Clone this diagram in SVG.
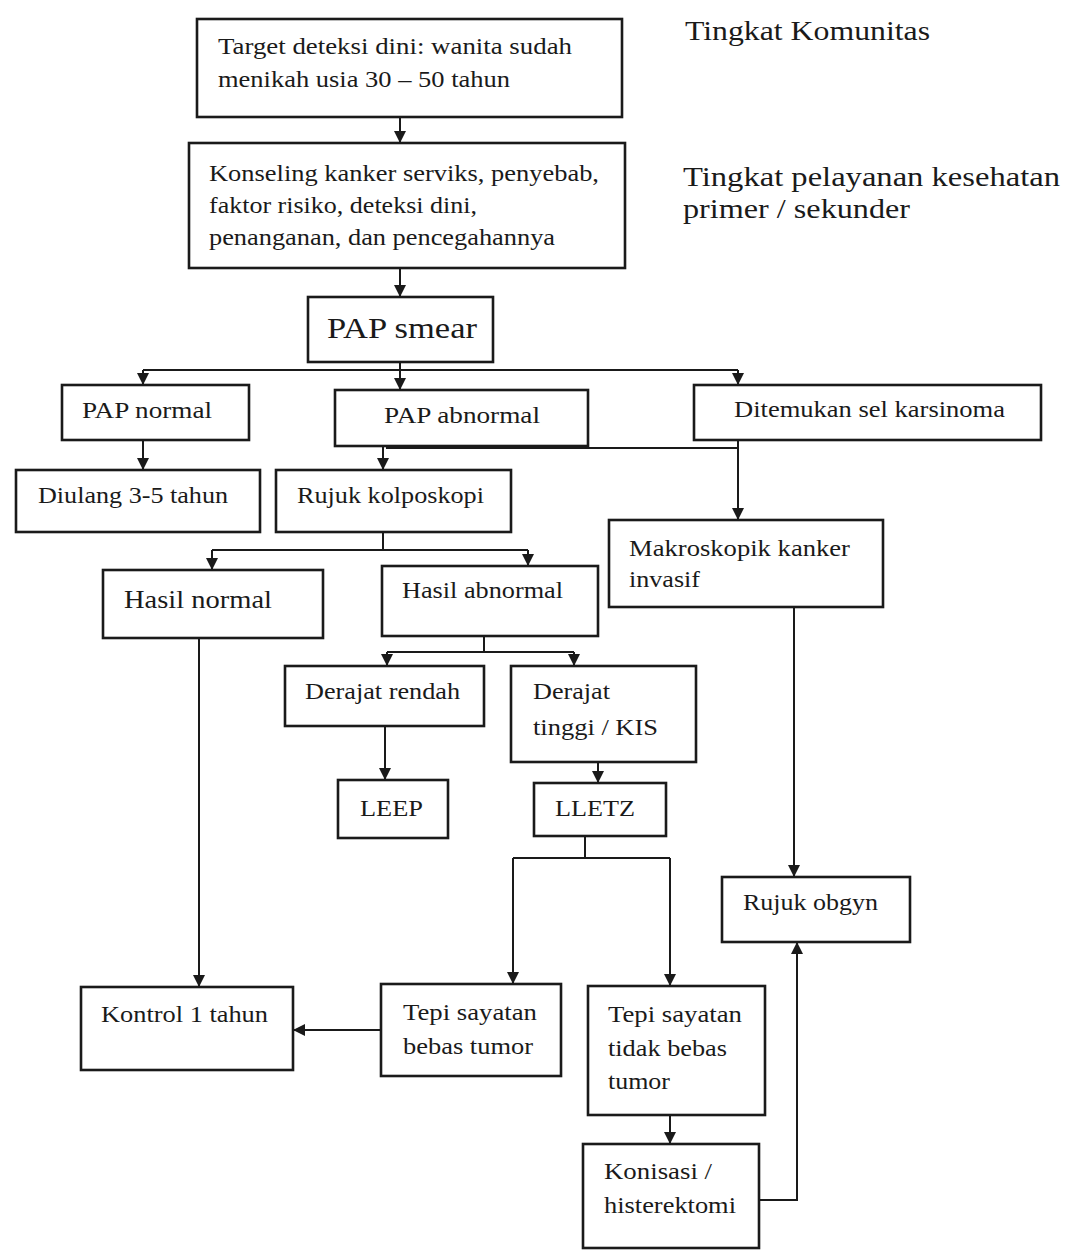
<svg xmlns="http://www.w3.org/2000/svg" width="1072" height="1251" viewBox="0 0 1072 1251">
<style>
.box{fill:#fff;stroke:#1a1a1a;stroke-width:2.6}
.t{font-family:"Liberation Serif","Times New Roman",serif;font-size:23px;fill:#1a1a1a}
.big{font-size:25px}
.lbl{font-family:"Liberation Serif","Times New Roman",serif;font-size:27px;fill:#1a1a1a}
.c{fill:none;stroke:#1a1a1a;stroke-width:2}
</style>
<defs>
<marker id="ah" markerUnits="userSpaceOnUse" markerWidth="12" markerHeight="12" refX="10" refY="5" orient="auto" viewBox="0 0 10 10">
<path d="M0,0 L10,5 L0,10 z" fill="#1a1a1a"/>
</marker>
</defs>
<rect width="1072" height="1251" fill="#fff"/>
<text class="lbl" x="685" y="40" textLength="245" lengthAdjust="spacingAndGlyphs">Tingkat Komunitas</text>
<text class="lbl" x="683" y="186" textLength="377" lengthAdjust="spacingAndGlyphs">Tingkat pelayanan kesehatan</text>
<text class="lbl" x="683" y="218" textLength="227" lengthAdjust="spacingAndGlyphs">primer / sekunder</text>
<g id="nodes-under">
<g id="n-papabnormal"><rect class="box" x="335" y="390" width="253" height="56"/>
<text class="t" x="384" y="423" textLength="156" lengthAdjust="spacingAndGlyphs">PAP abnormal</text></g>
</g>
<g id="connectors">
<path class="c" d="M400,117 V143" marker-end="url(#ah)"/>
<path class="c" d="M400,268 V297" marker-end="url(#ah)"/>
<path class="c" d="M400,362 V390" marker-end="url(#ah)"/>
<path class="c" d="M143,370 H738"/>
<path class="c" d="M143,370 V385" marker-end="url(#ah)"/>
<path class="c" d="M738,370 V385" marker-end="url(#ah)"/>
<path class="c" d="M143,440 V470" marker-end="url(#ah)"/>
<path class="c" d="M383,446 V470" marker-end="url(#ah)"/>
<path class="c" d="M386,448 H738"/>
<path class="c" d="M738,440 V520" marker-end="url(#ah)"/>
<path class="c" d="M383,532 V550 M212,550 H528"/>
<path class="c" d="M212,550 V570" marker-end="url(#ah)"/>
<path class="c" d="M528,550 V566" marker-end="url(#ah)"/>
<path class="c" d="M484,636 V652 M387,652 H574"/>
<path class="c" d="M387,652 V666" marker-end="url(#ah)"/>
<path class="c" d="M574,652 V666" marker-end="url(#ah)"/>
<path class="c" d="M385,726 V780" marker-end="url(#ah)"/>
<path class="c" d="M598,762 V783" marker-end="url(#ah)"/>
<path class="c" d="M585,836 V858 M513,858 H670"/>
<path class="c" d="M513,858 V984" marker-end="url(#ah)"/>
<path class="c" d="M670,858 V986" marker-end="url(#ah)"/>
<path class="c" d="M794,607 V877" marker-end="url(#ah)"/>
<path class="c" d="M199,638 V987" marker-end="url(#ah)"/>
<path class="c" d="M381,1030 H293" marker-end="url(#ah)"/>
<path class="c" d="M670,1115 V1144" marker-end="url(#ah)"/>
<path class="c" d="M759,1200 H797 V942" marker-end="url(#ah)"/>
</g>
<g id="n-target"><rect class="box" x="197" y="19" width="425" height="98"/>
<text class="t" x="218" y="54" textLength="354" lengthAdjust="spacingAndGlyphs">Target deteksi dini: wanita sudah</text>
<text class="t" x="218" y="87" textLength="292" lengthAdjust="spacingAndGlyphs">menikah usia 30 – 50 tahun</text></g>
<g id="n-konseling"><rect class="box" x="189" y="143" width="436" height="125"/>
<text class="t" x="209" y="181" textLength="390" lengthAdjust="spacingAndGlyphs">Konseling kanker serviks, penyebab,</text>
<text class="t" x="209" y="213" textLength="268" lengthAdjust="spacingAndGlyphs">faktor risiko, deteksi dini,</text>
<text class="t" x="209" y="245" textLength="346" lengthAdjust="spacingAndGlyphs">penanganan, dan pencegahannya</text></g>
<g id="n-pap"><rect class="box" x="308" y="297" width="185" height="65"/>
<text class="t" x="327" y="338" style="font-size:29px" textLength="150" lengthAdjust="spacingAndGlyphs">PAP smear</text></g>
<g id="n-papnormal"><rect class="box" x="62" y="385" width="187" height="55"/>
<text class="t" x="82" y="418" textLength="130" lengthAdjust="spacingAndGlyphs">PAP normal</text></g>
<g id="n-karsinoma"><rect class="box" x="694" y="385" width="347" height="55"/>
<text class="t" x="734" y="417" textLength="271" lengthAdjust="spacingAndGlyphs">Ditemukan sel karsinoma</text></g>
<g id="n-diulang"><rect class="box" x="16" y="470" width="244" height="62"/>
<text class="t" x="38" y="503" textLength="190" lengthAdjust="spacingAndGlyphs">Diulang 3-5 tahun</text></g>
<g id="n-rujukkolp"><rect class="box" x="276" y="470" width="235" height="62"/>
<text class="t" x="297" y="503" textLength="187" lengthAdjust="spacingAndGlyphs">Rujuk kolposkopi</text></g>
<g id="n-makro"><rect class="box" x="609" y="520" width="274" height="87"/>
<text class="t" x="629" y="556" textLength="221" lengthAdjust="spacingAndGlyphs">Makroskopik kanker</text>
<text class="t" x="629" y="587" textLength="71" lengthAdjust="spacingAndGlyphs">invasif</text></g>
<g id="n-hasilnormal"><rect class="box" x="103" y="570" width="220" height="68"/>
<text class="t big" x="124" y="608" textLength="148" lengthAdjust="spacingAndGlyphs">Hasil normal</text></g>
<g id="n-hasilabnormal"><rect class="box" x="382" y="566" width="216" height="70"/>
<text class="t" x="402" y="598" textLength="161" lengthAdjust="spacingAndGlyphs">Hasil abnormal</text></g>
<g id="n-rendah"><rect class="box" x="285" y="666" width="199" height="60"/>
<text class="t" x="305" y="699" textLength="155" lengthAdjust="spacingAndGlyphs">Derajat rendah</text></g>
<g id="n-tinggi"><rect class="box" x="511" y="666" width="185" height="96"/>
<text class="t" x="533" y="699" textLength="77" lengthAdjust="spacingAndGlyphs">Derajat</text>
<text class="t" x="533" y="735" textLength="125" lengthAdjust="spacingAndGlyphs">tinggi / KIS</text></g>
<g id="n-leep"><rect class="box" x="338" y="780" width="110" height="58"/>
<text class="t" x="360" y="816" textLength="63" lengthAdjust="spacingAndGlyphs">LEEP</text></g>
<g id="n-lletz"><rect class="box" x="534" y="783" width="132" height="53"/>
<text class="t" x="555" y="816" textLength="80" lengthAdjust="spacingAndGlyphs">LLETZ</text></g>
<g id="n-obgyn"><rect class="box" x="722" y="877" width="188" height="65"/>
<text class="t" x="743" y="910" textLength="135" lengthAdjust="spacingAndGlyphs">Rujuk obgyn</text></g>
<g id="n-kontrol"><rect class="box" x="81" y="987" width="212" height="83"/>
<text class="t" x="101" y="1022" textLength="167" lengthAdjust="spacingAndGlyphs">Kontrol 1 tahun</text></g>
<g id="n-bebas"><rect class="box" x="381" y="984" width="180" height="92"/>
<text class="t" x="403" y="1020" textLength="134" lengthAdjust="spacingAndGlyphs">Tepi sayatan</text>
<text class="t" x="403" y="1054" textLength="130" lengthAdjust="spacingAndGlyphs">bebas tumor</text></g>
<g id="n-tidakbebas"><rect class="box" x="588" y="986" width="177" height="129"/>
<text class="t" x="608" y="1022" textLength="134" lengthAdjust="spacingAndGlyphs">Tepi sayatan</text>
<text class="t" x="608" y="1056" textLength="119" lengthAdjust="spacingAndGlyphs">tidak bebas</text>
<text class="t" x="608" y="1089" textLength="62" lengthAdjust="spacingAndGlyphs">tumor</text></g>
<g id="n-konisasi"><rect class="box" x="583" y="1144" width="176" height="104"/>
<text class="t" x="604" y="1179" textLength="108" lengthAdjust="spacingAndGlyphs">Konisasi /</text>
<text class="t" x="604" y="1213" textLength="132" lengthAdjust="spacingAndGlyphs">histerektomi</text></g>
</svg>
